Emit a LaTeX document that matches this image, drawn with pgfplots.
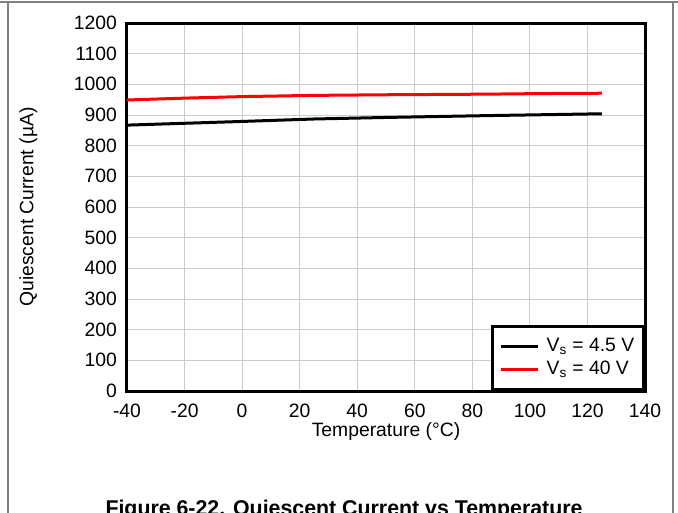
\documentclass[border=0pt]{standalone}
\usepackage{fontspec}
\setmainfont{Liberation Sans}
\usepackage{pgfplots}
\pgfplotsset{compat=1.18}
\begin{document}
\fontsize{14.5pt}{17pt}\selectfont
\begin{tikzpicture}
% page = 678x512 px at 0.75pt/px, origin at axis lower-left (px 127,391)
\clip (-95.25pt,-90.75pt) rectangle (413.25pt,293.25pt);
\draw[gray, line width=1.3pt] (-95.25pt,291.75pt) -- (413.25pt,291.75pt);
\draw[gray, line width=1.3pt] (-89.25pt,291.75pt) -- (-89.25pt,-95pt);
\draw[gray, line width=1.3pt] (409.5pt,291.75pt) -- (409.5pt,-95pt);
\begin{axis}[
    at={(0,0)}, anchor=south west,
    scale only axis, width=388.5pt, height=276pt,
    xmin=-40, xmax=140, ymin=0, ymax=1200,
    xtick={-40,-20,...,140}, ytick={0,100,...,1200},
    grid=major,
    major grid style={draw=black!20, line width=0.75pt},
    axis line style={line width=2.25pt},
    major tick length=0pt,
    /pgf/number format/assume math mode=true,
    /pgf/number format/1000 sep={},
    tick label style={font=\fontsize{14.5pt}{17pt}\selectfont},
    xticklabel style={yshift=-5pt},
    yticklabel style={xshift=-2.5pt},
    xlabel={Temperature (°C)},
    ylabel={Quiescent Current (µA)},
    label style={font=\fontsize{14.5pt}{17pt}\selectfont},
    every axis x label/.style={at={([yshift=-30pt]axis description cs:0.5,0)}, anchor=center},
    every axis y label/.style={at={([xshift=-74pt]axis description cs:0,0.5)}, anchor=center, rotate=90},
    legend cell align=left,
    legend style={at={(1,0)}, anchor=south east, draw=black, line width=2.25pt,
        fill=white, inner xsep=5pt, inner ysep=7pt, row sep=0.75pt,
        font=\fontsize{14.5pt}{17pt}\selectfont,
        /tikz/every odd column/.append style={column sep=3.5pt}},
    legend image code/.code={\draw[#1, line width=1.8pt] (0pt,0pt) -- (28pt,0pt);},
]
\addplot[black, line width=2.25pt] coordinates {
    (-40,867) (-20,873) (0,879) (25,887) (50,892) (85,898) (105,901) (125,904)};
\addplot[red, line width=2.25pt] coordinates {
    (-40,949) (-20,955) (0,960) (25,964) (50,966) (85,968) (105,970) (125,971)};
\legend{V\textsubscript{s} = 4.5 V, V\textsubscript{s} = 40 V}
\end{axis}
\node[anchor=north, inner sep=0pt, font=\bfseries\fontsize{16pt}{19pt}\selectfont]
    at (162.75pt,-81.75pt) {Figure 6-22. Quiescent Current vs Temperature};
\end{tikzpicture}
\end{document}
